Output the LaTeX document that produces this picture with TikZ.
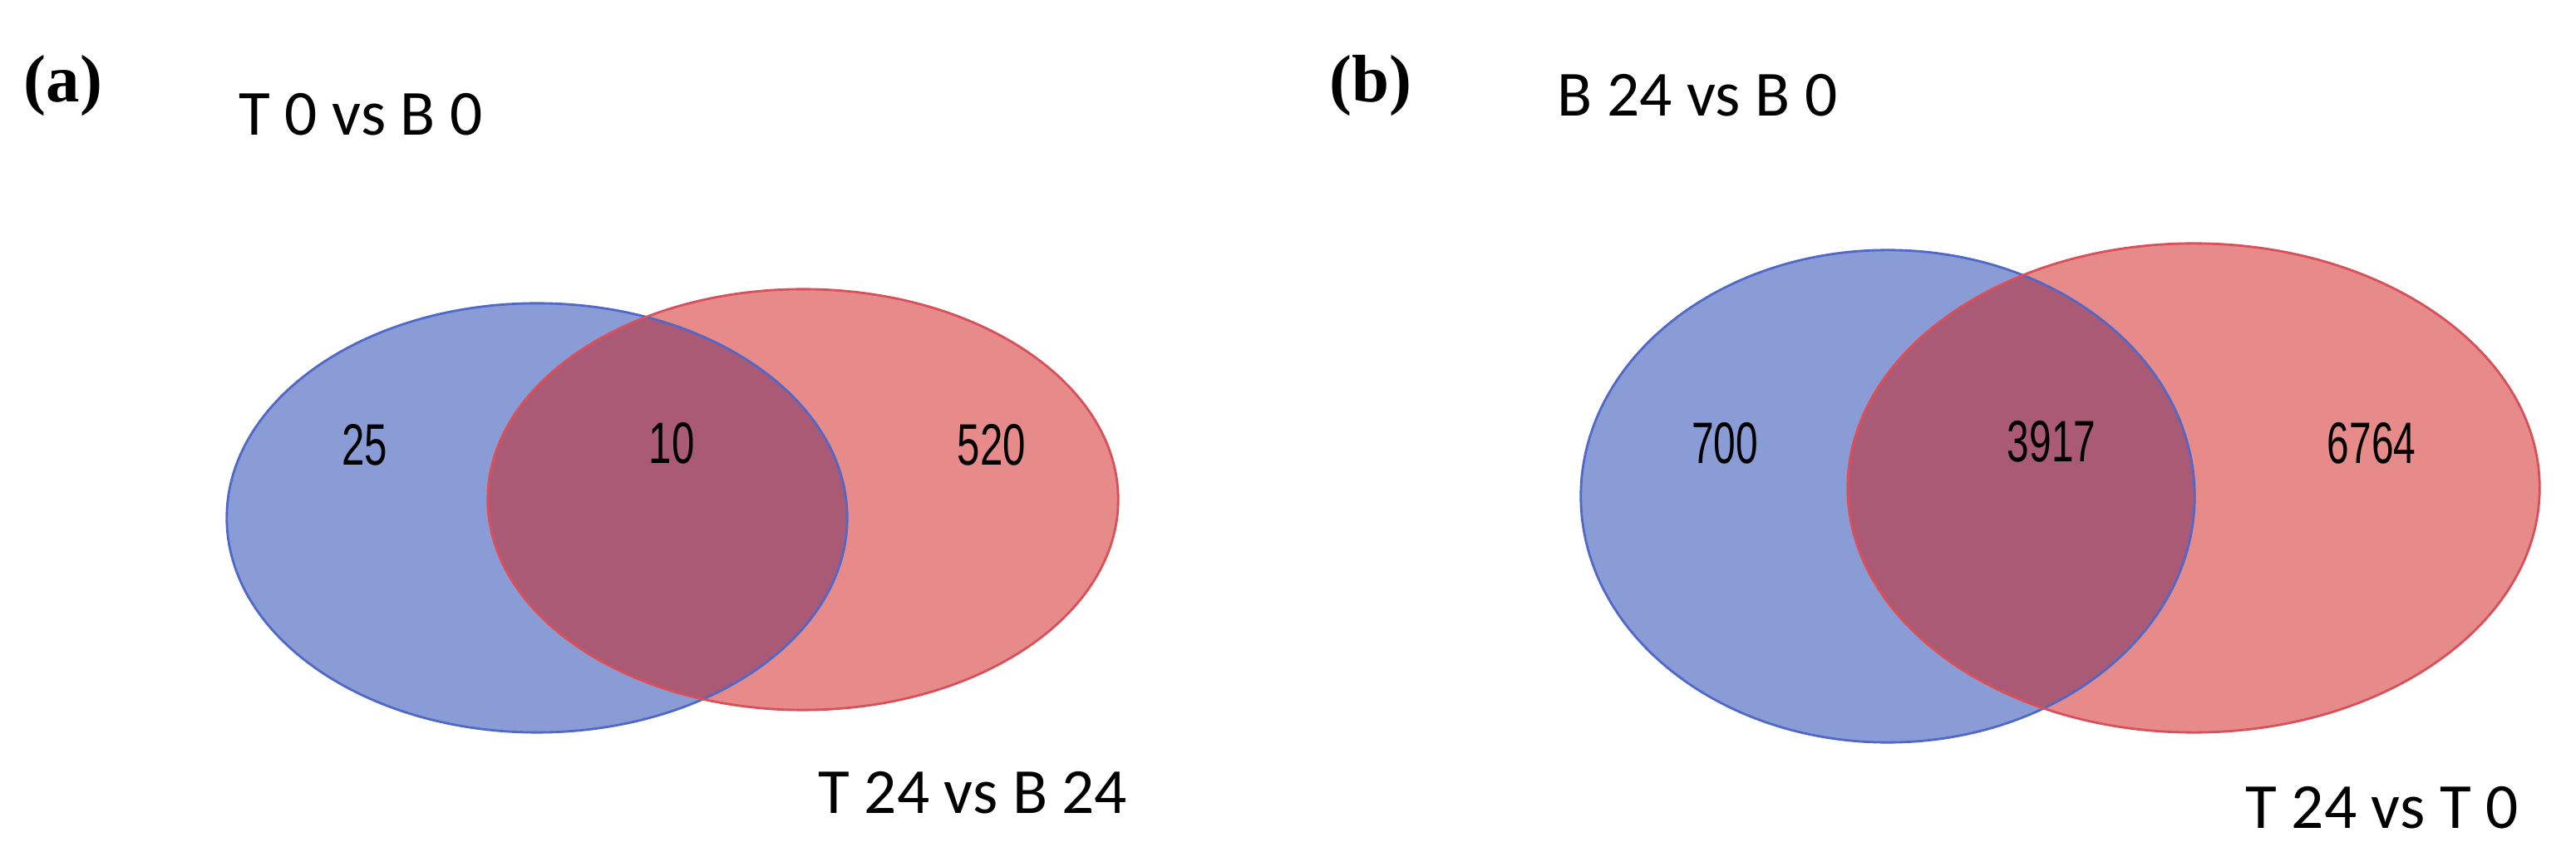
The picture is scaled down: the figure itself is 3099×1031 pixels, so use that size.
\documentclass[tikz,border=0pt]{standalone}
\usepackage{graphicx}
\usepackage{fontspec}
\setmainfont{Liberation Serif}
\newfontfamily\titlefont{Carlito}
\newfontfamily\numfont{Liberation Sans}
\definecolor{vblue}{HTML}{8A9CD6}
\definecolor{vred}{HTML}{E68A8A}
\definecolor{vmix}{HTML}{AB5A76}
\definecolor{vblueedge}{HTML}{5068C8}
\definecolor{vrededge}{HTML}{D9505A}
\tikzset{
  paneltag/.style={font=\bfseries\fontsize{23}{26}\selectfont, inner sep=0pt},
  settitle/.style={font=\titlefont\fontsize{22}{26}\selectfont, inner sep=0pt, anchor=west},
  countlabel/.style={font=\numfont\fontsize{20}{22}\selectfont, inner sep=0pt},
  blueedge/.style={draw=vblueedge, line width=0.8pt},
  rededge/.style={draw=vrededge, line width=0.8pt},
}
\begin{document}
\begin{tikzpicture}[x=0.01cm,y=-0.01cm]
\useasboundingbox (0,0) rectangle (3099,1031);
\fill[white] (0,0) rectangle (3099,1031);

% ---------- panel (a) ----------
\coordinate (ablue) at (646,623);
\coordinate (ared) at (966,601);
\fill[vblue] (ablue) ellipse [x radius=3.73cm, y radius=2.58cm];
\fill[vred] (ared) ellipse [x radius=3.79cm, y radius=2.53cm];
\begin{scope}
  \clip (ablue) ellipse [x radius=3.73cm, y radius=2.58cm];
  \fill[vmix] (ared) ellipse [x radius=3.79cm, y radius=2.53cm];
\end{scope}
\draw[blueedge] (ablue) ellipse [x radius=3.73cm, y radius=2.58cm];
\draw[rededge] (ared) ellipse [x radius=3.79cm, y radius=2.53cm];

\node[paneltag] (taga) at (76,103) {(a)};
\node[settitle] (ta1) at (287,138) {T 0 vs B 0};
\node[settitle] (ta2) at (984,954) {T 24 vs B 24};
\node[countlabel] (na1) at (439,535) {\scalebox{0.7}[1]{25}};
\node[countlabel] (na2) at (808,533) {\scalebox{0.7}[1]{10}};
\node[countlabel] (na3) at (1193,535) {\scalebox{0.7}[1]{520}};

% ---------- panel (b) ----------
\coordinate (bblue) at (2271,597);
\coordinate (bred) at (2639,587);
\fill[vblue] (bblue) ellipse [x radius=3.69cm, y radius=2.96cm];
\fill[vred] (bred) ellipse [x radius=4.16cm, y radius=2.94cm];
\begin{scope}
  \clip (bblue) ellipse [x radius=3.69cm, y radius=2.96cm];
  \fill[vmix] (bred) ellipse [x radius=4.16cm, y radius=2.94cm];
\end{scope}
\draw[blueedge] (bblue) ellipse [x radius=3.69cm, y radius=2.96cm];
\draw[rededge] (bred) ellipse [x radius=4.16cm, y radius=2.94cm];

\node[paneltag] (tagb) at (1649,103) {(b)};
\node[settitle] (tb1) at (1873,115) {B 24 vs B 0};
\node[settitle] (tb2) at (2701,972) {T 24 vs T 0};
\node[countlabel] (nb1) at (2075,533) {\scalebox{0.68}[1]{700}};
\node[countlabel] (nb2) at (2468,531) {\scalebox{0.68}[1]{3917}};
\node[countlabel] (nb3) at (2853,533) {\scalebox{0.68}[1]{6764}};
\end{tikzpicture}
\end{document}
